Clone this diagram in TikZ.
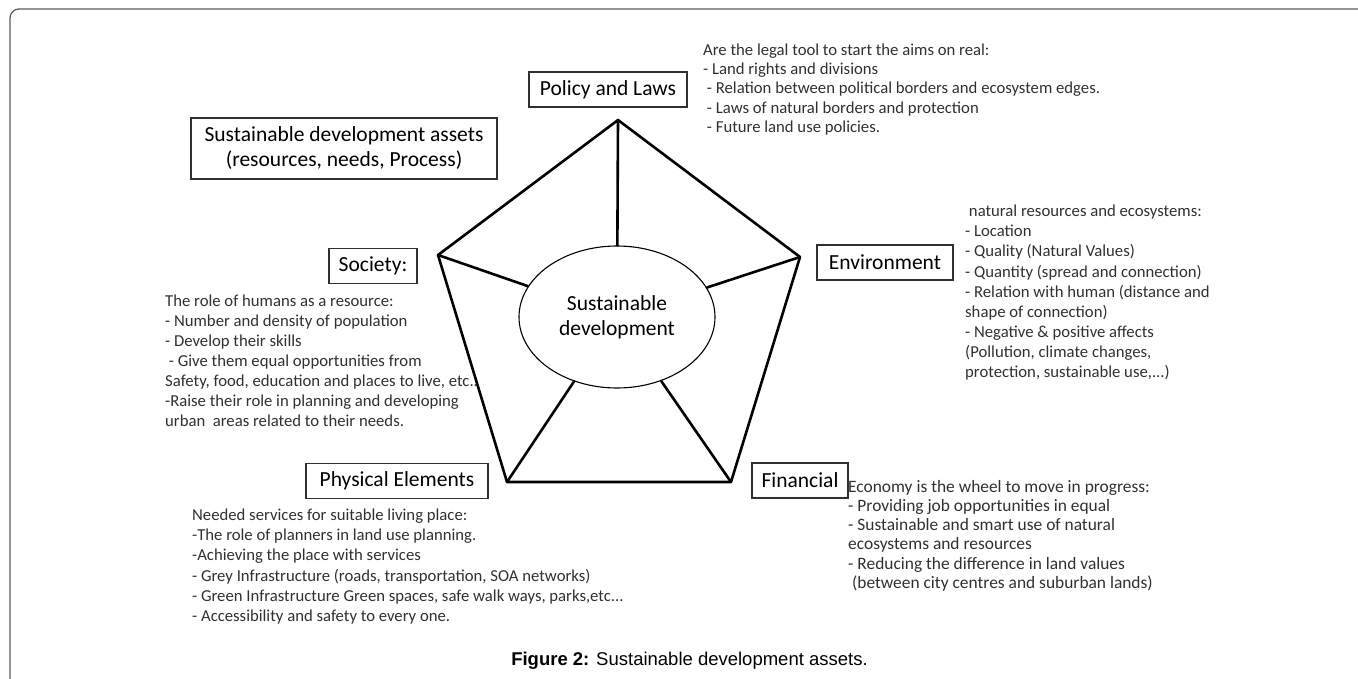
\documentclass[tikz,border=0pt]{standalone}
\usepackage{fontspec}
\setmainfont{Carlito}
\newfontfamily\capfont{Liberation Sans}
\usetikzlibrary{shapes.geometric}

\definecolor{ink}{HTML}{303030}
\definecolor{framegray}{HTML}{5A5A5A}

\tikzset{
	asset/.style={draw=ink, line width=1.1pt, font=\fontsize{21.5}{25}\selectfont, inner sep=2pt, minimum height=35pt, align=center},
	notes/.style={anchor=base west, inner sep=0pt, align=left, text=ink, font=\fontsize{16.7}{#1}\selectfont},
	notes/.default=20,
	spoke/.style={line width=2.6pt, line cap=round, line join=round}
}

\begin{document}
\begin{tikzpicture}[x=1pt, y=-1pt]
	
	\useasboundingbox (0,0) rectangle (1358,679);
	\clip (0,0) rectangle (1358,679);
	\draw[framegray, line width=1.3pt, rounded corners=9pt] (10,9) rectangle (1380,700);
	
	% the five corners
	\coordinate (p1) at (618,120);
	\coordinate (p2) at (800,257);
	\coordinate (p3) at (731,482);
	\coordinate (p4) at (507,482);
	\coordinate (p5) at (438,255);
	
	\node[ellipse, draw, line width=1.1pt, minimum width=196pt, minimum height=142pt, inner sep=0pt, align=center, font=\fontsize{21.5}{25}\selectfont] (sd) at (617,317) {Sustainable\\development};
	
	\draw[spoke] (p1) -- (p2) -- (p3) -- (p4) -- (p5) -- cycle;
	\foreach \i in {1,...,5}
		\draw[spoke] (p\i) -- (sd);
	
	% labels
	\node[asset, minimum width=306pt, minimum height=61pt] (assets) at (344,148.5) {Sustainable development assets\\(resources, needs, Process)};
	\node[asset, minimum width=158pt] (policy) at (608,89.5) {Policy and Laws};
	\node[asset, minimum width=88pt] (society) at (373,266) {Society:};
	\node[asset, minimum width=136pt] (environment) at (885,262.5) {Environment};
	\node[asset, minimum width=182pt] (physical) at (397,481) {Physical Elements};
	\node[asset, minimum width=96pt] (financial) at (800,480.5) {Financial};
	
	% notes (anchored on the last line)
	\node[notes=19.3] (policytext) at (703,132.5) {Are the legal tool to start the aims on real:\\- Land rights and divisions\\\ - Relation between political borders and ecosystem edges.\\\ - Laws of natural borders and protection\\\ - Future land use policies.};
	
	\node[notes=20.1] (envtext) at (965,377.5) {\ natural resources and ecosystems:\\- Location\\- Quality (Natural Values)\\- Quantity (spread and connection)\\- Relation with human (distance and\\shape of connection)\\- Negative \& positive affects\\(Pollution, climate changes,\\protection, sustainable use,...)};
	
	\node[notes] (societytext) at (165,426.5) {The role of humans as a resource:\\- Number and density of population\\- Develop their skills\\\ - Give them equal opportunities from\\Safety, food, education and places to live, etc..\\-Raise their role in planning and developing\\urban\ \ areas related to their needs.};
	
	\node[notes=20.2] (physicaltext) at (192,621.5) {Needed services for suitable living place:\\-The role of planners in land use planning.\\-Achieving the place with services\\- Grey Infrastructure (roads, transportation, SOA networks)\\- Green Infrastructure Green spaces, safe walk ways, parks,etc...\\- Accessibility and safety to every one.};
	
	\node[notes=19.3, font=\fontsize{17.4}{19.3}\selectfont] (financetext) at (848,588.5) {Economy is the wheel to move in progress:\\- Providing job opportunities in equal\\- Sustainable and smart use of natural\\ecosystems and resources\\- Reducing the difference in land values\\\ (between city centres and suburban lands)};
	
	\node[anchor=base, font=\capfont\fontsize{18.5}{22}\selectfont] (caption) at (689.5,665.5) {\textbf{Figure 2:} Sustainable development assets.};
	
\end{tikzpicture}
\end{document}
